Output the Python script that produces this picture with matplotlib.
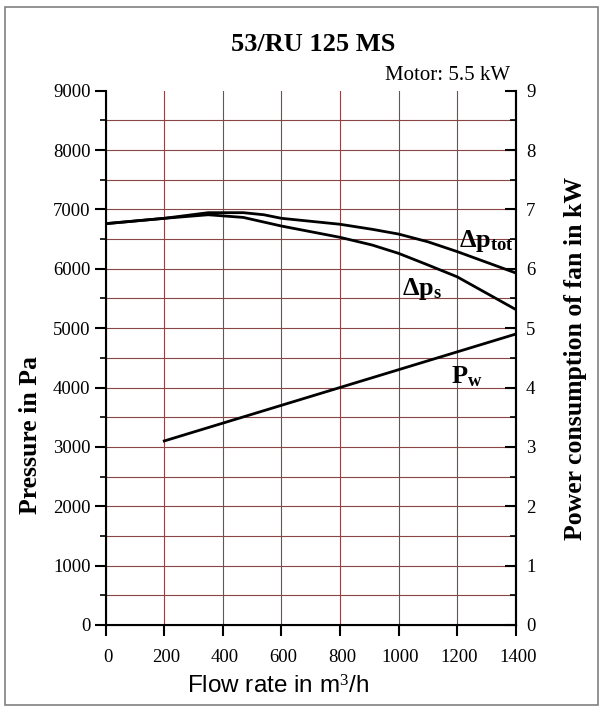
import matplotlib
matplotlib.use("Agg")
import matplotlib.pyplot as plt
import matplotlib.transforms as mtransforms
from matplotlib.patches import Rectangle
from matplotlib.ticker import MultipleLocator

plt.rcParams['font.family'] = 'Liberation Serif'
plt.rcParams['mathtext.fontset'] = 'custom'
plt.rcParams['mathtext.rm'] = 'Liberation Serif'
plt.rcParams['mathtext.bf'] = 'Liberation Serif:bold'
plt.rcParams['mathtext.it'] = 'Liberation Serif:bold'

# data
flow_tot = [0, 200, 350, 470, 540, 600, 800, 910, 1000, 1100, 1200, 1400]
p_tot = [6760, 6850, 6945, 6945, 6910, 6850, 6750, 6665, 6585, 6455, 6290, 5930]

flow_s = [0, 200, 350, 470, 600, 800, 910, 1000, 1100, 1200, 1400]
p_s = [6760, 6850, 6910, 6865, 6720, 6530, 6400, 6260, 6065, 5865, 5315]

flow_w = [200, 800, 1400]
power_w = [3.1, 4.0, 4.9]

x_ticks = [0, 200, 400, 600, 800, 1000, 1200, 1400]
grid_col = '#8a4646'

fig = plt.figure(figsize=(6.03, 7.09), dpi=100)
fig.patches.append(Rectangle((0.008, 0.006), 0.984, 0.984, transform=fig.transFigure,
                             fill=False, edgecolor='#808080', lw=1.2))

ax = fig.add_axes([0.1753, 0.1185, 0.6799, 0.7536])
ax.set_xlim(0, 1400)
ax.set_ylim(0, 9000)

for v in range(500, 9000, 500):
    ax.axhline(v, color=grid_col, lw=0.8, zorder=1)
for v in x_ticks[1:-1]:
    ax.axvline(v, color=grid_col, lw=0.8, zorder=1)

ax.plot(flow_tot, p_tot, color='black', lw=2.0, zorder=3)
ax.plot(flow_s, p_s, color='black', lw=2.0, zorder=3)

ax.spines['top'].set_visible(False)
for s in ('left', 'right', 'bottom'):
    ax.spines[s].set_linewidth(1.5)

ax.set_xticks(x_ticks)
ax.yaxis.set_major_locator(MultipleLocator(1000))
ax.yaxis.set_minor_locator(MultipleLocator(500))
ax.tick_params(axis='x', direction='out', length=8, width=1.5, pad=9.5, labelsize=13.5)
ax.tick_params(axis='y', which='major', direction='out', length=8, width=1.5, pad=3,
               labelsize=13.5)
ax.tick_params(axis='y', which='minor', direction='out', length=4, width=1.2)
shift = mtransforms.ScaledTranslation(2 / 100, 0, fig.dpi_scale_trans)
for lab in ax.get_xticklabels():
    lab.set_transform(lab.get_transform() + shift)

ax2 = ax.twinx()
ax2.set_ylim(0, 9)
ax2.plot(flow_w, power_w, color='black', lw=2.0, zorder=3)
ax2.spines['top'].set_visible(False)
ax2.spines['right'].set_linewidth(1.5)
ax2.yaxis.set_major_locator(MultipleLocator(1))
ax2.yaxis.set_minor_locator(MultipleLocator(0.5))
ax2.tick_params(axis='y', which='major', direction='in', length=8, width=1.5, pad=7.5,
                labelsize=13.5)
ax2.tick_params(axis='y', which='minor', direction='in', length=4, width=1.2)

ax.text(1393, 6372, r'$\mathbf{\Delta p_{tot}}$', ha='right', va='baseline',
        fontsize=19, zorder=4)
ax.text(1012, 5558, r'$\mathbf{\Delta p_{s}}$', ha='left', va='baseline',
        fontsize=19, zorder=4)
ax.text(1178, 4071, r'$\mathbf{P_{w}}$', ha='left', va='baseline',
        fontsize=19, zorder=4)

fig.text(0.52, 0.937, '53/RU 125 MS', ha='center', va='center', fontsize=19,
         fontweight='bold')
fig.text(0.846, 0.893, 'Motor: 5.5 kW', ha='right', va='center', fontsize=15)
fig.text(0.05, 0.386, 'Pressure in Pa', rotation=90, ha='center', va='center',
         fontsize=18.5, fontweight='bold')
fig.text(0.955, 0.494, 'Power consumption of fan in kW', rotation=90, ha='center',
         va='center', fontsize=18.5, fontweight='bold')
fig.text(0.461, 0.031, 'Flow rate in m$^{3}$/h', ha='center', va='center',
         fontsize=17.5, family='Liberation Sans')

fig.savefig('out.png', dpi=100)
